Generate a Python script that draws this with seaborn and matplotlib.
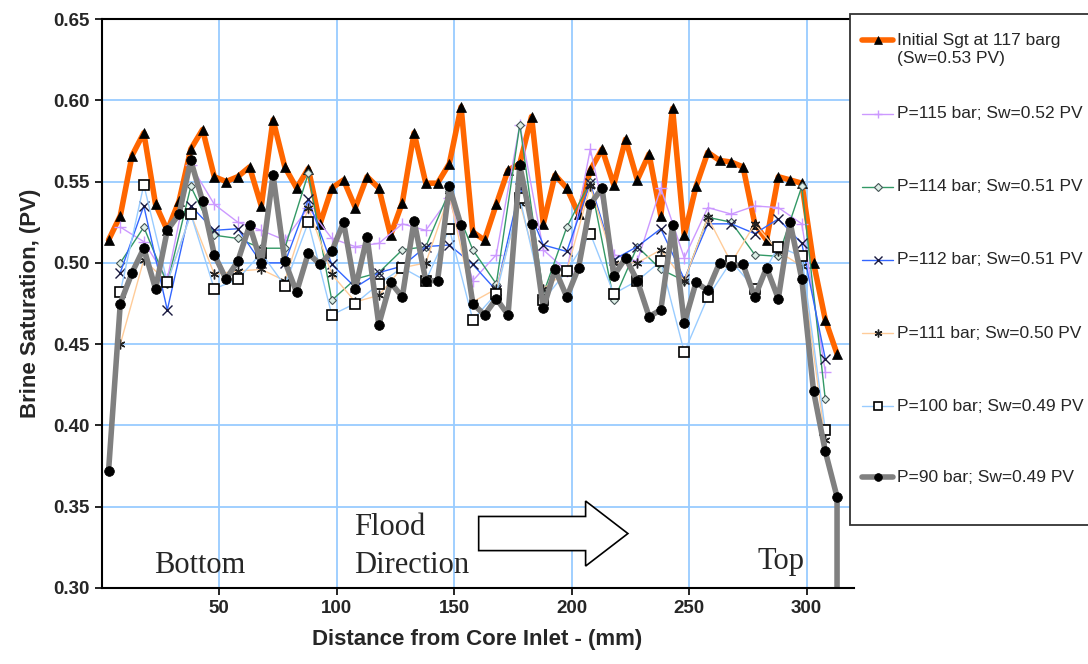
import matplotlib
matplotlib.use("Agg")
import matplotlib.pyplot as plt
import matplotlib.patches as mpatches
from matplotlib.lines import Line2D
import seaborn as sns

# ---------------- data ----------------
dist = [3, 8, 13, 18, 23, 28, 33, 38, 43, 48, 53, 58, 63, 68, 73, 78, 83, 88, 93, 98,
        103, 108, 113, 118, 123, 128, 133, 138, 143, 148, 153, 158, 163, 168, 173, 178,
        183, 188, 193, 198, 203, 208, 213, 218, 223, 228, 233, 238, 243, 248, 253, 258,
        263, 268, 273, 278, 283, 288, 293, 298, 303, 308, 313]
dist_half = [8, 18, 28, 38, 48, 58, 68, 78, 88, 98, 108, 118, 128, 138, 148, 158, 168,
             178, 188, 198, 208, 218, 228, 238, 248, 258, 268, 278, 288, 298, 308]
dist_p90 = dist + [313]

initial = [0.514, 0.529, 0.566, 0.580, 0.536, 0.520, 0.538, 0.570, 0.582, 0.553,
           0.550, 0.553, 0.559, 0.535, 0.588, 0.559, 0.546, 0.558, 0.524, 0.546,
           0.551, 0.534, 0.553, 0.546, 0.517, 0.537, 0.580, 0.549, 0.549, 0.561,
           0.596, 0.519, 0.514, 0.536, 0.557, 0.561, 0.590, 0.524, 0.554, 0.546,
           0.530, 0.557, 0.570, 0.548, 0.576, 0.551, 0.567, 0.529, 0.595, 0.517,
           0.547, 0.568, 0.563, 0.562, 0.559, 0.524, 0.514, 0.553, 0.551, 0.549,
           0.500, 0.465, 0.444]
p115 = [0.522, 0.513, 0.490, 0.560, 0.536, 0.525, 0.520, 0.514, 0.534, 0.515,
        0.510, 0.512, 0.524, 0.520, 0.540, 0.489, 0.505, 0.585, 0.508, 0.495,
        0.570, 0.505, 0.501, 0.546, 0.503, 0.534, 0.530, 0.535, 0.534, 0.524, 0.433]
p114 = [0.500, 0.522, 0.487, 0.547, 0.517, 0.515, 0.509, 0.509, 0.555, 0.477,
        0.490, 0.494, 0.508, 0.510, 0.544, 0.508, 0.487, 0.585, 0.481, 0.522,
        0.550, 0.477, 0.510, 0.496, 0.489, 0.528, 0.525, 0.505, 0.504, 0.547, 0.416]
p112 = [0.494, 0.535, 0.471, 0.535, 0.520, 0.521, 0.500, 0.500, 0.539, 0.499,
        0.485, 0.494, 0.498, 0.510, 0.511, 0.499, 0.483, 0.546, 0.511, 0.507,
        0.549, 0.502, 0.510, 0.521, 0.490, 0.524, 0.524, 0.518, 0.527, 0.512, 0.441]
p111 = [0.450, 0.502, 0.488, 0.530, 0.493, 0.495, 0.496, 0.489, 0.534, 0.493,
        0.476, 0.480, 0.497, 0.500, 0.542, 0.476, 0.484, 0.537, 0.484, 0.495,
        0.547, 0.500, 0.500, 0.508, 0.489, 0.528, 0.500, 0.524, 0.507, 0.498, 0.391]
p100 = [0.482, 0.548, 0.488, 0.530, 0.484, 0.490, 0.506, 0.486, 0.525, 0.468,
        0.475, 0.487, 0.497, 0.489, 0.521, 0.465, 0.481, 0.540, 0.477, 0.495,
        0.518, 0.481, 0.489, 0.501, 0.445, 0.479, 0.501, 0.484, 0.510, 0.504, 0.397]
p90 = [0.372, 0.475, 0.494, 0.509, 0.484, 0.520, 0.530, 0.563, 0.538, 0.505,
       0.490, 0.501, 0.523, 0.500, 0.554, 0.501, 0.482, 0.506, 0.499, 0.507,
       0.525, 0.484, 0.516, 0.462, 0.488, 0.479, 0.526, 0.489, 0.489, 0.547,
       0.523, 0.475, 0.468, 0.478, 0.468, 0.560, 0.524, 0.472, 0.496, 0.479,
       0.497, 0.536, 0.546, 0.492, 0.503, 0.489, 0.467, 0.471, 0.523, 0.463,
       0.488, 0.483, 0.500, 0.498, 0.499, 0.479, 0.497, 0.478, 0.525, 0.490,
       0.421, 0.384, 0.356, 0.20]

labels = ["Initial Sgt at 117 barg\n(Sw=0.53 PV)",
          "P=115 bar; Sw=0.52 PV",
          "P=114 bar; Sw=0.51 PV",
          "P=112 bar; Sw=0.51 PV",
          "P=111 bar; Sw=0.50 PV",
          "P=100 bar; Sw=0.49 PV",
          "P=90 bar; Sw=0.49 PV"]
x_ticks = [50, 100, 150, 200, 250, 300]
y_ticks = [0.30, 0.35, 0.40, 0.45, 0.50, 0.55, 0.60, 0.65]

# ---------------- styles ----------------
styles = [
    dict(color="#FF6600", lw=4.0, marker="^", ms=7.5, mfc="black", mec="black", mew=0.5),
    dict(color="#CC99FF", lw=1.0, marker="+", ms=8, mfc="#CC99FF", mec="#CC99FF", mew=1.0),
    dict(color="#339966", lw=1.0, marker="D", ms=4.5, mfc="#DDEEE6", mec="#445555", mew=0.8),
    dict(color="#3366FF", lw=1.0, marker="x", ms=6.5, mfc="#1A1A40", mec="#1A1A40", mew=1.0),
    dict(color="#FFCC99", lw=1.0, marker=(6, 2, 0), ms=7, mfc="#222222", mec="#222222", mew=1.0),
    dict(color="#99CCFF", lw=1.0, marker="s", ms=6.5, mfc="white", mec="black", mew=1.2),
    dict(color="#808080", lw=4.0, marker="o", ms=7, mfc="black", mec="black", mew=0.5),
]

W, H = 1088, 664
sns.set_theme(style="white")
plt.rcParams['font.family'] = ['Liberation Sans', 'DejaVu Sans']

fig = plt.figure(figsize=(W / 100, H / 100), dpi=100)
ax = fig.add_axes([101.5 / W, 1 - 588 / H, (853.5 - 101.5) / W, (588 - 19) / H])

series = [(dist, initial), (dist_half, p115), (dist_half, p114), (dist_half, p112),
          (dist_half, p111), (dist_half, p100), (dist_p90, p90)]
for (xs, ys), st, lab in zip(series, styles, labels):
    sns.lineplot(x=xs, y=ys, ax=ax, estimator=None, sort=False, label=lab,
                 color=st["color"], linewidth=st["lw"], marker=st["marker"],
                 markersize=st["ms"], markerfacecolor=st["mfc"],
                 markeredgecolor=st["mec"], markeredgewidth=st["mew"], legend=False)

ax.set_xlim(0, 320)
ax.set_ylim(0.30, 0.65)
ax.set_xticks(x_ticks)
ax.set_yticks(y_ticks)
ax.set_yticklabels([f"{v:.2f}" for v in y_ticks])
ax.grid(True, color="#99CCFF", linewidth=1.3)
ax.axvline(0, color="#99CCFF", linewidth=1.3, zorder=0)
ax.set_axisbelow(True)
for s in ax.spines.values():
    s.set_color("black")
    s.set_linewidth(1.5)
ax.spines["right"].set_visible(False)
ax.tick_params(axis="both", which="major", direction="out", length=5, width=1.2,
               color="black", labelsize=13.5, bottom=True, left=True)
for lbl in ax.get_xticklabels() + ax.get_yticklabels():
    lbl.set_fontweight("bold")
ax.set_xlabel("Distance from Core Inlet - (mm)", fontsize=16, fontweight="bold", labelpad=9)
ax.set_ylabel("Brine Saturation, (PV)", fontsize=16, fontweight="bold", labelpad=9)

# annotations
serif = ['Liberation Serif', 'DejaVu Serif']
ax.text(22.5, 0.314, "Bottom", family=serif, fontsize=22, va="center", ha="left")
ax.text(107.5, 0.337, "Flood", family=serif, fontsize=22, va="center", ha="left")
ax.text(107.5, 0.314, "Direction", family=serif, fontsize=22, va="center", ha="left")
ax.text(279, 0.316, "Top", family=serif, fontsize=22, va="center", ha="left")
arrow = mpatches.FancyArrow(160.5, 0.3335, 45.5, 0.0, width=0.021, head_width=0.040,
                            head_length=18.0, length_includes_head=False,
                            facecolor="white", edgecolor="black", linewidth=1.2)
ax.add_patch(arrow)

# legend (drawn in figure pixel coordinates)
def fx(px):
    return px / W

def fy(py):
    return 1 - py / H

frame = mpatches.Rectangle((fx(850), fy(525)), fx(1100) - fx(850), fy(14) - fy(525),
                           transform=fig.transFigure, facecolor="white",
                           edgecolor="#333333", linewidth=1.3, zorder=5)
fig.add_artist(frame)
entry_y = [40, 114, 187, 260, 333, 406, 477]
for st, lab, yy in zip(styles, labels, entry_y):
    fig.add_artist(Line2D([fx(862), fx(893)], [fy(yy), fy(yy)], transform=fig.transFigure,
                          color=st["color"], linewidth=st["lw"], zorder=6))
    fig.add_artist(Line2D([fx(877.5)], [fy(yy)], transform=fig.transFigure,
                          linestyle="none", marker=st["marker"], markersize=st["ms"] * 0.8,
                          markerfacecolor=st["mfc"], markeredgecolor=st["mec"],
                          markeredgewidth=st["mew"], zorder=7))
    for k, line in enumerate(lab.split("\n")):
        fig.text(fx(897), fy(yy + 19 * k), line, fontsize=12.5, va="center", ha="left",
                 zorder=7)

fig.savefig("out.png", dpi=100)
